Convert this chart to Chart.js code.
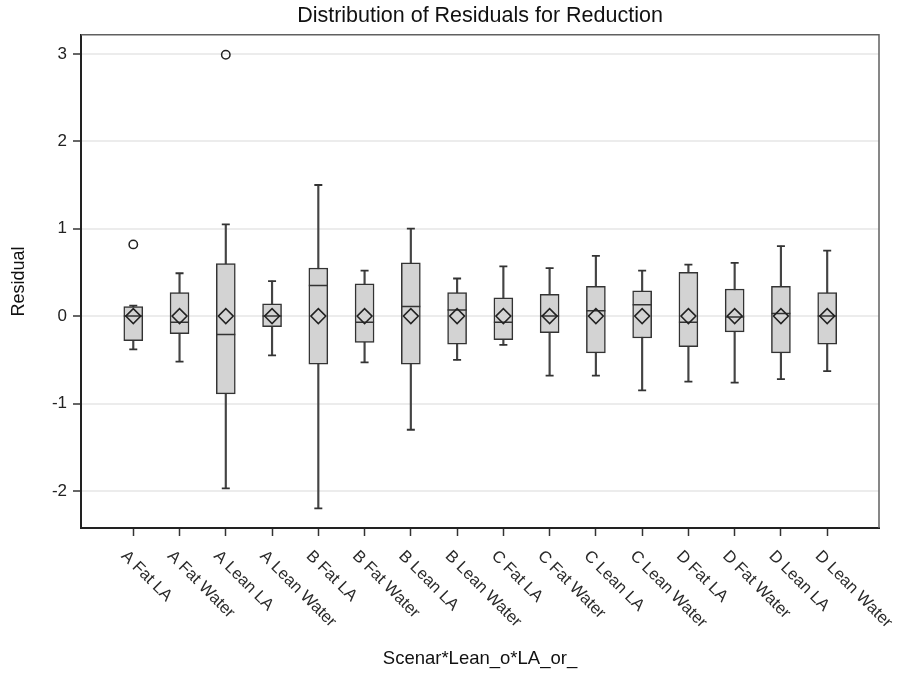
<!DOCTYPE html>
<html>
<head>
<meta charset="utf-8">
<script src="https://cdn.jsdelivr.net/npm/chart.js@4/dist/chart.umd.min.js"></script>
<style>
  html, body { margin: 0; padding: 0; background: #fff; }
  #wrap { width: 899px; height: 674px; }
</style>
</head>
<body>
<div id="wrap"><canvas id="c" width="899" height="674"></canvas></div>
<script>
// Groups along the horizontal axis
const categories = [
  'A Fat LA', 'A Fat Water', 'A Lean LA', 'A Lean Water',
  'B Fat LA', 'B Fat Water', 'B Lean LA', 'B Lean Water',
  'C Fat LA', 'C Fat Water', 'C Lean LA', 'C Lean Water',
  'D Fat LA', 'D Fat Water', 'D Lean LA', 'D Lean Water'
];

// Five-number summaries of the residuals per group
const whiskerLow  = [-0.38, -0.52, -1.97, -0.45, -2.20, -0.53, -1.30, -0.50, -0.33, -0.68, -0.68, -0.85, -0.75, -0.76, -0.72, -0.63];
const q1          = [-0.28, -0.20, -0.89, -0.12, -0.55, -0.30, -0.55, -0.32, -0.27, -0.19, -0.42, -0.25, -0.35, -0.18, -0.42, -0.32];
const medians     = [ 0.00, -0.07, -0.21,  0.00,  0.35, -0.07,  0.11,  0.07, -0.07,  0.00,  0.06,  0.13, -0.07, -0.01,  0.03,  0.00];
const q3          = [ 0.11,  0.27,  0.60,  0.14,  0.55,  0.37,  0.61,  0.27,  0.21,  0.25,  0.34,  0.29,  0.50,  0.31,  0.34,  0.27];
const whiskerHigh = [ 0.12,  0.49,  1.05,  0.40,  1.50,  0.52,  1.00,  0.43,  0.57,  0.55,  0.69,  0.52,  0.59,  0.61,  0.80,  0.75];
const means       = [ 0, 0, 0, 0, 0, 0, 0, 0, 0, 0, 0, 0, 0, 0, 0, 0];

// Points beyond the whiskers
const outlierGroups = [0, 2];
const outlierValues = [0.82, 2.99];

// Axis range and tick values
const yMin = -2.424, yMax = 3.218;
const yTicks = [-2, -1, 0, 1, 2, 3];

const INK = '#333333';
const FONT = "'Liberation Sans', Arial, Helvetica, sans-serif";

const idx = categories.map((_, i) => i);

// Top and right edges of the plot frame, plus slanted group labels
const framePlugin = {
  id: 'frameAndLabels',
  afterDraw(chart) {
    const { ctx, chartArea: a, scales } = chart;
    ctx.save();
    ctx.strokeStyle = '#606060';
    ctx.lineWidth = 1.5;
    ctx.beginPath();
    ctx.moveTo(a.left, a.top);
    ctx.lineTo(a.right, a.top);
    ctx.lineTo(a.right, a.bottom);
    ctx.stroke();

    ctx.fillStyle = '#2a2a2a';
    ctx.font = '16.5px ' + FONT;
    ctx.textAlign = 'left';
    ctx.textBaseline = 'middle';
    categories.forEach((label, i) => {
      const px = scales.x.getPixelForValue(i);
      ctx.save();
      ctx.translate(px - 9.5, a.bottom + 25.5);
      ctx.rotate(Math.PI / 4);
      ctx.fillText(label, 0, 0);
      ctx.restore();
    });
    ctx.restore();
  }
};

new Chart(document.getElementById('c'), {
  type: 'bar',
  data: {
    datasets: [
      {
        // whisker stems
        label: 'whiskers',
        data: idx.map(i => ({ x: i, y: [whiskerLow[i], whiskerHigh[i]] })),
        backgroundColor: '#444444',
        borderWidth: 0,
        barThickness: 1.5,
        grouped: false,
        order: 5
      },
      {
        // interquartile boxes
        label: 'boxes',
        data: idx.map(i => ({ x: i, y: [q1[i], q3[i]] })),
        backgroundColor: '#d3d3d3',
        borderColor: INK,
        borderWidth: 1.5,
        borderSkipped: false,
        barThickness: 19,
        grouped: false,
        order: 4
      },
      {
        type: 'scatter',
        label: 'caps',
        data: idx.flatMap(i => [{ x: i, y: whiskerLow[i] }, { x: i, y: whiskerHigh[i] }]),
        pointStyle: 'line',
        pointRadius: 4,
        borderColor: INK,
        borderWidth: 1.8,
        order: 3
      },
      {
        type: 'scatter',
        label: 'medians',
        data: idx.map(i => ({ x: i, y: medians[i] })),
        pointStyle: 'line',
        pointRadius: 9.5,
        borderColor: INK,
        borderWidth: 1.5,
        order: 2
      },
      {
        type: 'scatter',
        label: 'means',
        data: idx.map(i => ({ x: i, y: means[i] })),
        pointStyle: 'rectRot',
        pointRadius: 7.5,
        backgroundColor: 'rgba(0,0,0,0)',
        borderColor: '#222222',
        borderWidth: 1.5,
        order: 1
      },
      {
        type: 'scatter',
        label: 'outliers',
        data: outlierGroups.map((g, k) => ({ x: g, y: outlierValues[k] })),
        pointStyle: 'circle',
        pointRadius: 4.2,
        backgroundColor: 'rgba(0,0,0,0)',
        borderColor: '#222222',
        borderWidth: 1.5,
        order: 0
      }
    ]
  },
  options: {
    responsive: false,
    animation: false,
    events: [],
    layout: { padding: { left: 0, right: 20, top: 0, bottom: 0 } },
    plugins: {
      legend: { display: false },
      tooltip: { enabled: false },
      title: {
        display: true,
        fullSize: false,
        text: 'Distribution of Residuals for Reduction',
        color: '#111111',
        font: { family: FONT, size: 21.5, weight: 'normal' },
        padding: { top: 3.5, bottom: 5.5 }
      }
    },
    scales: {
      x: {
        type: 'linear',
        offset: false,
        min: -1.13,
        max: 16.12,
        afterBuildTicks(scale) { scale.ticks = idx.map(v => ({ value: v })); },
        afterFit(scale) { scale.height = 146; },
        ticks: { display: false },
        grid: {
          offset: false,
          drawOnChartArea: false,
          drawTicks: true,
          tickLength: 8,
          tickColor: INK,
          tickWidth: 1.5
        },
        border: { display: true, color: '#222222', width: 2 },
        title: {
          display: true,
          text: 'Scenar*Lean_o*LA_or_',
          color: '#111111',
          font: { family: FONT, size: 18.5 },
          padding: { top: 0, bottom: 4 }
        }
      },
      y: {
        type: 'linear',
        min: yMin,
        max: yMax,
        afterBuildTicks(scale) { scale.ticks = yTicks.map(v => ({ value: v })); },
        afterFit(scale) { scale.width = 81; },
        ticks: {
          color: '#222222',
          font: { family: FONT, size: 17 },
          padding: 6
        },
        grid: {
          color: '#ececec',
          lineWidth: 2,
          tickColor: INK,
          tickWidth: 1.5,
          tickLength: 8
        },
        border: { display: true, color: '#222222', width: 2 },
        title: {
          display: true,
          text: 'Residual',
          color: '#111111',
          font: { family: FONT, size: 18 },
          padding: { top: 8, bottom: 0 }
        }
      }
    }
  },
  plugins: [framePlugin]
});
</script>
</body>
</html>
